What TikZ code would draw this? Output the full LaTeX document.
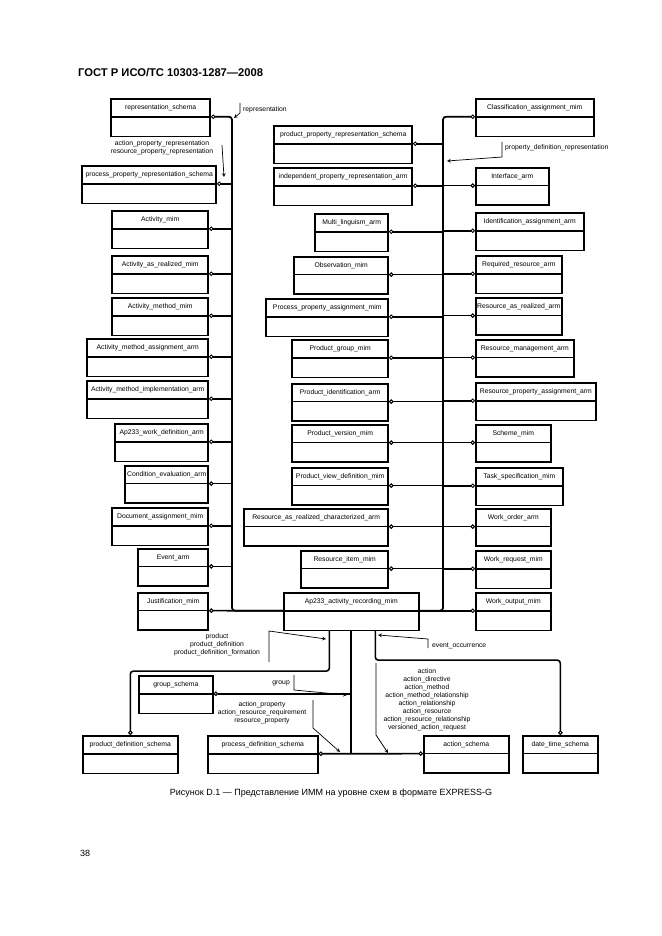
\documentclass[tikz,border=0pt]{standalone}
\usepackage{fontspec}
\setmainfont{Liberation Sans}
\usepackage{tikz}
\usetikzlibrary{shapes.multipart, arrows, arrows.meta}
\newcommand{\schemafont}{\fontsize{6.8}{8}\selectfont}
\tikzset{circ/.tip={Circle[open,length=4.5pt,width=4.5pt,line width=1pt]}}
\tikzstyle{schema} = [draw, line width=1.6pt, rectangle split, rectangle split parts=2, rectangle split empty part height=8pt, inner xsep=0pt, inner ysep=5pt, align=center, font=\schemafont]
\tikzstyle{link} = [line width=1.6pt, circ-]
\tikzstyle{bus} = [line width=1.8pt, rounded corners=3pt]
\tikzstyle{arrow} = [line width=0.7pt,->,>=stealth]
\tikzstyle{rel} = [font=\schemafont, align=center, inner sep=0pt]

\begin{document}
\begin{tikzpicture}[x=1pt,y=-1pt]
	\fill[white] (0,0) rectangle (661,936);
	\useasboundingbox (0,0) rectangle (661,936);
	
	% Page header, caption and page number:
	\node[anchor=west, inner sep=0pt, font=\bfseries\fontsize{11.2}{13}\selectfont] (head) at (78,73) {ГОСТ Р ИСО/ТС 10303-1287—2008};
	\node[inner sep=0pt, font=\fontsize{9}{11}\selectfont] (cap) at (331,793) {Рисунок D.1 — Представление ИММ на уровне схем в формате EXPRESS-G};
	\node[anchor=west, inner sep=0pt, font=\fontsize{9}{11}\selectfont] (pg) at (80,853) {38};
	
	% The two buses:
	\coordinate (lbus) at (232,0);
	\coordinate (rbus) at (443,0);
	
	% Left column:
	% Boxes are aligned on their right side
	\node[schema, text width=99pt, anchor=north east] (repr) at (211,98) {representation\_schema\nodepart{two}\strut};
	\node[schema, text width=134pt, anchor=north east] (ppr) at (217,165) {process\_property\_representation\_schema\nodepart{two}\strut};
	\foreach \n/\w/\y/\t in {actm/96/210/Activity\_mim, actrm/96/255/Activity\_as\_realized\_mim, actmm/96/297/Activity\_method\_mim, actma/121/338/Activity\_method\_assignment\_arm, actmi/121/380/Activity\_method\_implementation\_arm, wdef/93/423/Ap233\_work\_definition\_arm, cond/83/465/Condition\_evaluation\_arm, doc/96/507/Document\_assignment\_mim, evt/70/548/Event\_arm, just/70/592/Justification\_mim}
	{
		\node[schema, text width=\w pt, anchor=north east] (\n) at (209,\y) {\t\nodepart{two}\strut};
	}
	
	% Middle column:
	\node[schema, text width=138pt, anchor=north east] (pprs) at (413,125) {product\_property\_representation\_schema\nodepart{two}\strut};
	\node[schema, text width=138pt, anchor=north east] (ipr) at (413,167) {independent\_property\_representation\_arm\nodepart{two}\strut};
	\foreach \n/\w/\y/\t in {mling/73/213/Multi\_linguism\_arm, obs/94/256/Observation\_mim, ppa/122/298/Process\_property\_assignment\_mim, pgrp/96/339/Product\_group\_mim, pid/96/383/Product\_identification\_arm, pver/96/424/Product\_version\_mim, pvd/96/467/Product\_view\_definition\_mim, rarc/144/508/Resource\_as\_realized\_characterized\_arm, ritem/87/550/Resource\_item\_mim}
	{
		\node[schema, text width=\w pt, anchor=north east] (\n) at (389,\y) {\t\nodepart{two}\strut};
	}
	\node[schema, text width=135pt, anchor=north west] (ap) at (283,592) {Ap233\_activity\_recording\_mim\nodepart{two}\strut};
	
	% Right column:
	% Boxes are aligned on their left side
	\foreach \n/\w/\y/\t in {cls/118/98/Classification\_assignment\_mim, intf/73/167/Interface\_arm, idas/108/212/Identification\_assignment\_arm, rres/86/255/Required\_resource\_arm, rrea/86/297/Resource\_as\_realized\_arm, rman/98/339/Resource\_management\_arm, rpa/120/382/Resource\_property\_assignment\_arm, schm/75/424/Scheme\_mim, task/87/467/Task\_specification\_mim, word/75/508/Work\_order\_arm, wreq/75/550/Work\_request\_mim, wout/75/592/Work\_output\_mim}
	{
		\node[schema, text width=\w pt, anchor=north west] (\n) at (475,\y) {\t\nodepart{two}\strut};
	}
	
	% Bottom row:
	\node[schema, text width=74pt, anchor=north west] (grp) at (138,675) {group\_schema\nodepart{two}\strut};
	\node[schema, text width=95pt, anchor=north west] (pdef) at (82,735) {product\_definition\_schema\nodepart{two}\strut};
	\node[schema, text width=110pt, anchor=north west] (prdef) at (207,735) {process\_definition\_schema\nodepart{two}\strut};
	\node[schema, text width=85pt, anchor=north west] (acts) at (423,735) {action\_schema\nodepart{two}\strut};
	\node[schema, text width=75pt, anchor=north west] (dts) at (522,735) {date\_time\_schema\nodepart{two}\strut};
	
	% Buses:
	\draw[bus, circ-] (repr.text split east) -- (repr.text split east -| lbus) -- (lbus |- ap.text split west) -- (ap.text split west);
	\draw[bus, circ-] (cls.text split west) -- (cls.text split west -| rbus) -- (rbus |- ap.text split east) -- (ap.text split east);
	
	% Links to the buses:
	\foreach \n in {ppr,actm,actrm,actmm,actma,actmi,wdef,cond,doc,evt}
	{
		\draw[link] (\n.text split east) -- (\n.text split east -| lbus);
	}
	\foreach \n in {pprs,ipr,mling,obs,ppa,pgrp,pid,pver,pvd,rarc,ritem}
	{
		\draw[link] (\n.text split east) -- (\n.text split east -| rbus);
	}
	\foreach \n in {intf,idas,rres,rrea,rman,rpa,schm,task,word,wreq}
	{
		\draw[link] (\n.text split west) -- (\n.text split west -| rbus);
	}
	\draw[link] (just.text split east) -- (ap.text split west);
	\draw[link] (wout.text split west) -- (ap.text split east);
	
	% Links below Ap233_activity_recording_mim:
	\draw[line width=1.8pt] (ap.south) -- (ap.south |- prdef.text split east);
	\draw[link] (grp.text split east) -- (grp.text split east -| ap.south);
	\draw[link, circ-circ] (prdef.text split east) -- (acts.text split west);
	\draw[bus, line width=1.6pt, -circ] ([xshift=-22pt]ap.south) -- ++(0,40) -| (pdef.north);
	\draw[bus, line width=1.6pt, -circ] ([xshift=24pt]ap.south) -- ++(0,29) -| (dts.north);
	
	% Labels of the links:
	\node[rel, anchor=west] (lrepr) at (243,110) {representation};
	\draw[arrow] (240,103) -- (240,113) -- (234,118);
	\node[rel] (lapr) at (162,148) {action\_property\_representation\\resource\_property\_representation};
	\draw[arrow] (222,145) -- (224,177);
	\node[rel, anchor=west] (lpdr) at (505,148) {property\_definition\_representation};
	\draw[arrow] (502,142) -- (502,157) -- (447,161);
	\node[rel] (lprod) at (217,645) {product\\product\_definition\\product\_definition\_formation};
	\draw[arrow] (269,662) -- (269,631) -- (326,639);
	\node[rel, anchor=east] (lgrp) at (290,683) {group};
	\draw[arrow] (294,675) -- (294,690) -- (347,695);
	\node[rel] (lact) at (262,713) {action\_property\\action\_resource\_requirement\\resource\_property};
	\draw[arrow] (313,700) -- (313,728) -- (340,752);
	\node[rel, anchor=west] (levt) at (432,646) {event\_occurrence};
	\draw[arrow] (428,648) -- (428,639) -- (378,635);
	\node[rel] (lacts) at (427,700) {action\\action\_directive\\action\_method\\action\_method\_relationship\\action\_relationship\\action\_resource\\action\_resource\_relationship\\versioned\_action\_request};
	\draw[arrow] (376,663) -- (376,735) -- (388,753);
	
\end{tikzpicture}
\end{document}
